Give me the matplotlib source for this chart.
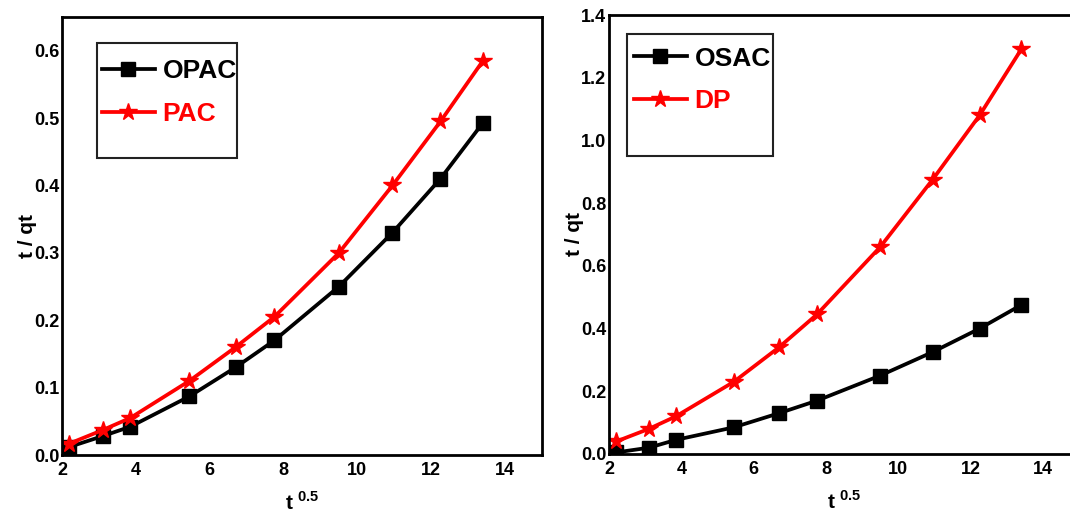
import matplotlib.pyplot as plt
from matplotlib.patches import Rectangle

plt.rcParams['font.family'] = ['Liberation Sans', 'DejaVu Sans']
plt.rcParams['font.weight'] = 'bold'
plt.rcParams['mathtext.fontset'] = 'custom'
plt.rcParams['mathtext.rm'] = 'Liberation Sans:bold'
plt.rcParams['mathtext.bf'] = 'Liberation Sans:bold'

# data
x = [2.2, 3.1, 3.85, 5.45, 6.7, 7.75, 9.5, 10.95, 12.25, 13.4]
opac = [0.012, 0.028, 0.042, 0.087, 0.13, 0.17, 0.25, 0.33, 0.41, 0.493]
pac = [0.017, 0.037, 0.055, 0.11, 0.16, 0.205, 0.30, 0.40, 0.495, 0.585]
osac = [0.005, 0.02, 0.045, 0.085, 0.13, 0.17, 0.25, 0.325, 0.40, 0.475]
dp = [0.04, 0.08, 0.12, 0.23, 0.34, 0.445, 0.66, 0.875, 1.08, 1.29]

left_ticks = [0.0, 0.1, 0.2, 0.3, 0.4, 0.5, 0.6]
right_ticks = [0.0, 0.2, 0.4, 0.6, 0.8, 1.0, 1.2, 1.4]
x_ticks = [2, 4, 6, 8, 10, 12, 14]

fig = plt.figure(figsize=(10.7, 5.13), dpi=100)
ax1 = fig.add_axes([62/1070, 1-455/513, 480/1070, 438/513])
ax2 = fig.add_axes([609/1070, 1-454/513, 470/1070, 439/513])


def style(ax, black, red, names, yt, ylim, box, anchor):
    ax.plot(x, black, '-s', color='black', lw=2.7, ms=10, label=names[0])
    ax.plot(x, red, '-*', color='red', lw=2.7, ms=13, label=names[1])
    ax.set_xlim(2, 15)
    ax.set_ylim(*ylim)
    ax.set_xticks(x_ticks)
    ax.set_yticks(yt)
    ax.set_yticklabels(['%.1f' % v for v in yt])
    ax.tick_params(length=0, labelsize=13, pad=2)
    ax.tick_params(axis='x', pad=5)
    for s in ax.spines.values():
        s.set_linewidth(2)
    ax.set_ylabel('t / qt', fontsize=15, fontweight='bold', labelpad=-2)
    ax.set_xlabel(r'$\mathrm{t}^{\ 0.5}$', fontsize=15, labelpad=9)
    ax.add_patch(Rectangle(box[:2], box[2], box[3], transform=ax.transAxes,
                           fill=False, edgecolor='#222222', lw=1.5, zorder=5))
    leg = ax.legend(loc='upper left', bbox_to_anchor=anchor, fontsize=19,
                    frameon=False, handlelength=2.0, handletextpad=0.3,
                    borderpad=0, labelspacing=0.7, borderaxespad=0)
    for t, c in zip(leg.get_texts(), ['black', 'red']):
        t.set_color(c)


style(ax1, opac, pac, ['OPAC', 'PAC'], left_ticks, (0, 0.65),
      (0.073, 0.678, 0.292, 0.263), (0.083, 0.903))
style(ax2, osac, dp, ['OSAC', 'DP'], right_ticks, (0, 1.4),
      (0.038, 0.679, 0.311, 0.278), (0.053, 0.928))

fig.savefig('out.png', dpi=100)
